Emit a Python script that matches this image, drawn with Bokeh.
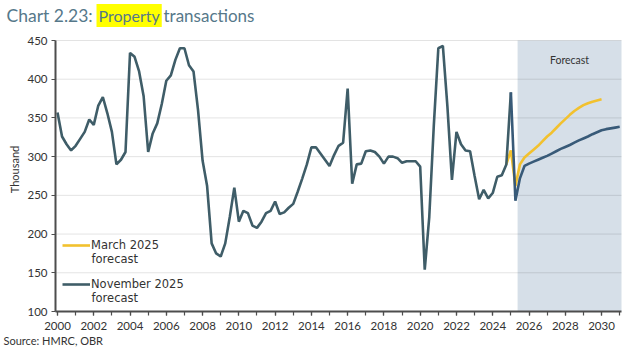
import math
import numpy as np
from bokeh.plotting import figure
from bokeh.models import (Range1d, SingleIntervalTicker, BoxAnnotation, Label,
                          Legend, LegendItem, ColumnDataSource)
from bokeh.embed import file_html
from bokeh.resources import INLINE

# ---------------- data (thousand property transactions, quarterly) ----------------
start_year = 2000
navy_values = [
    357, 326, 316, 308,   # 2000
    314, 323, 332, 348,   # 2001
    341, 366, 377, 356,   # 2002
    332, 290, 296, 306,   # 2003
    434, 429, 410, 378,   # 2004
    306, 330, 343, 368,   # 2005
    398, 405, 425, 440,   # 2006
    440, 418, 410, 360,   # 2007
    295, 262, 188, 175,   # 2008
    171, 188, 222, 260,   # 2009
    216, 230, 227, 211,   # 2010
    208, 216, 227, 230,   # 2011
    242, 226, 228, 234,   # 2012
    239, 255, 272, 290,   # 2013
    312, 312, 304, 296,   # 2014
    288, 302, 314, 318,   # 2015
    388, 265, 290, 291,   # 2016
    307, 308, 306, 300,   # 2017
    291, 300, 300, 298,   # 2018
    292, 294, 294, 294,   # 2019
    287, 154, 222, 340,   # 2020
    440, 443, 365, 270,   # 2021
    332, 316, 308, 307,   # 2022
    275, 245, 257, 246,   # 2023
    253, 274, 276, 290,   # 2024
    383, 243, 272, 288,   # 2025
    291, 293.5, 296, 298.5,   # 2026
    301, 304, 307, 310,       # 2027
    312.5, 315, 318, 321,     # 2028
    323.5, 326, 329, 331.5,   # 2029
    334, 335.5, 336.5, 337.5, # 2030
    338.5,                    # 2031
]
march_start = 2024.75
march_values = [
    290,                      # 2024 Q4
    308, 262, 290, 299,       # 2025
    304, 309, 314, 320,       # 2026
    326, 331, 337, 343,       # 2027
    348.5, 354, 359, 363,     # 2028
    366.5, 369, 371, 372.5,   # 2029
    374,                      # 2030
]
forecast_start = 2025.37
y_ticks = [100, 150, 200, 250, 300, 350, 400, 450]
legend_names = ["March 2025", "November 2025"]
legend_sub = "forecast"

navy_x = start_year + 0.25 * np.arange(len(navy_values))
march_x = march_start + 0.25 * np.arange(len(march_values))
split = 100  # last outturn quarter index (2024 Q4) where colour shifts

# ---------------- layout (pixels on the 634 x 357 canvas) ----------------
W, H = 634, 357
AX_X0, AX_X1 = 1999.89, 2031.1          # extent of x axis
PX_L, PX_R = 55, 621                    # axis pixel extent
PX_T, PX_B = 40, 311                    # pixel of 450 / 100
kx = (PX_R - PX_L) / (AX_X1 - AX_X0)
ky = (PX_B - PX_T) / (y_ticks[-1] - y_ticks[0])
X0 = AX_X0 - PX_L / kx
X1 = AX_X1 + (W - PX_R) / kx
Y1 = y_ticks[-1] + PX_T / ky
Y0 = y_ticks[0] - (H - PX_B) / ky

FONT = "Lato"
LEG_FONT = "DejaVu Sans"
TXT = "#333333"
NAVY = "#3f5d68"
NAVY2 = "#385a78"
YELLOW = "#f2c12e"
AXC = "#4d4d4d"

p = figure(width=W, height=H, x_range=Range1d(X0, X1), y_range=Range1d(Y0, Y1),
           output_backend="svg", toolbar_location=None, min_border=0)
p.outline_line_color = None
p.background_fill_color = "white"
p.grid.visible = False

# forecast shading
p.add_layout(BoxAnnotation(left=forecast_start, right=AX_X1, bottom=y_ticks[0], top=y_ticks[-1],
                           fill_color="#d6dfe8", fill_alpha=1.0, line_color=None, level="image"))

# horizontal grid lines
gy = y_ticks[1:]
p.segment(x0=[AX_X0] * len(gy), x1=[AX_X1] * len(gy), y0=gy, y1=gy,
          line_color="#000000", line_alpha=0.11, line_width=1, level="underlay")

# axes drawn inside the canvas
p.xaxis.fixed_location = y_ticks[0]
p.yaxis.fixed_location = AX_X0
p.xaxis.bounds = (AX_X0, AX_X1)
p.yaxis.bounds = (y_ticks[0], y_ticks[-1])
p.xaxis.ticker = SingleIntervalTicker(interval=2, num_minor_ticks=2)
p.yaxis.ticker = y_ticks
for ax in (p.xaxis, p.yaxis):
    ax.axis_line_color = AXC
    ax.axis_line_width = 2
    ax.major_tick_line_color = AXC
    ax.minor_tick_line_color = AXC
    ax.major_tick_line_width = 1.2
    ax.minor_tick_line_width = 1.2
    ax.major_tick_in = 0
    ax.major_tick_out = 4
    ax.minor_tick_in = 0
    ax.minor_tick_out = 4
    ax.major_label_text_font = FONT
    ax.major_label_text_font_size = "11.5px"
    ax.major_label_text_color = TXT
p.xaxis.major_label_standoff = 6
p.yaxis.major_label_standoff = 4
p.yaxis.minor_tick_line_color = None

# lines
src_m = ColumnDataSource(dict(x=march_x, y=march_values))
src_n1 = ColumnDataSource(dict(x=navy_x[:split + 1], y=navy_values[:split + 1]))
src_n2 = ColumnDataSource(dict(x=navy_x[split:], y=navy_values[split:]))
r_m = p.line("x", "y", source=src_m, line_color=YELLOW, line_width=2.6)
r_n = p.line("x", "y", source=src_n1, line_color=NAVY, line_width=2.6)
p.line("x", "y", source=src_n2, line_color=NAVY2, line_width=2.6)

# legend
legend = Legend(items=[LegendItem(label=legend_names[0], renderers=[r_m]),
                       LegendItem(label=legend_names[1], renderers=[r_n])],
                location=(62, 66), orientation="vertical",
                background_fill_alpha=0, border_line_alpha=0,
                label_text_font=LEG_FONT, label_text_font_size="11.5px", label_text_color=TXT,
                glyph_width=28, glyph_height=14, label_height=14, label_standoff=1,
                padding=0, margin=0, spacing=25)
p.add_layout(legend)
for yb in (99, 60):
    p.add_layout(Label(x=91, y=yb, x_units="screen", y_units="screen", text=legend_sub,
                       text_font=LEG_FONT, text_font_size="11.5px", text_color=TXT,
                       text_baseline="alphabetic"))

# y axis title
p.add_layout(Label(x=14, y=H - 169, x_units="screen", y_units="screen", text="Thousand",
                   angle=math.pi / 2, text_font=FONT, text_font_size="11px", text_color=TXT,
                   text_align="center", text_baseline="middle"))

# forecast label
p.add_layout(Label(x=(forecast_start + AX_X1) / 2, y=425, text="Forecast",
                   text_font=FONT, text_font_size="10.5px", text_color=TXT,
                   text_align="center", text_baseline="middle"))

# chart title with highlighted word
title_kw = dict(x_units="screen", y_units="screen", y=H - 15, text_baseline="alphabetic",
                text_font=FONT, text_color="#56788a")
p.add_layout(Label(x=6, text="Chart 2.23:", text_font_size="17.5px", **title_kw))
p.add_layout(Label(x=96, text="Property", text_font_size="16px",
                   background_fill_color="#ffff00", padding=2, **title_kw))
p.add_layout(Label(x=163, text="transactions", text_font_size="17px", **title_kw))

# source
p.add_layout(Label(x=3, y=H - 340, x_units="screen", y_units="screen", text="Source: HMRC, OBR",
                   text_font=FONT, text_font_size="11px", text_color=TXT, text_baseline="middle"))

open("out.html", "w").write(file_html(p, INLINE))
